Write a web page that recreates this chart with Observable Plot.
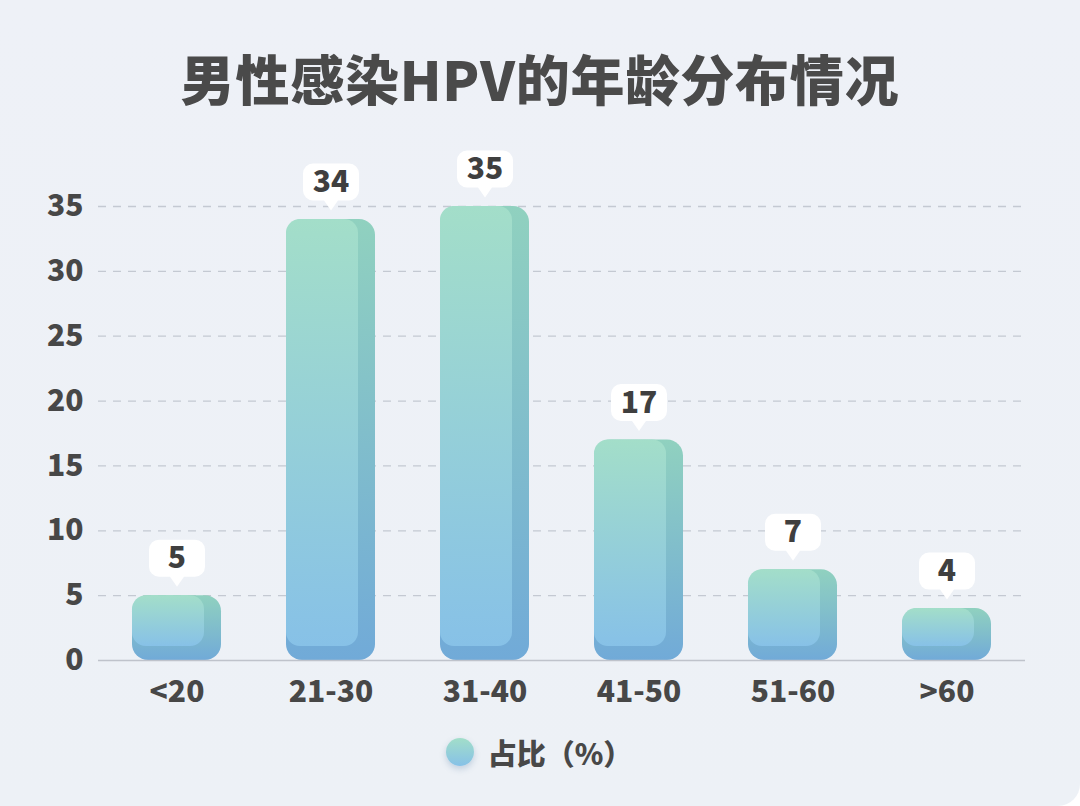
<!DOCTYPE html>
<html>
<head>
<meta charset="utf-8">
<script src="https://cdn.jsdelivr.net/npm/d3@7"></script>
<script src="https://cdn.jsdelivr.net/npm/@observablehq/plot@0.6"></script>
<style>
  html, body { margin: 0; padding: 0; background: #ffffff; }
  #card {
    width: 1080px; height: 806px; box-sizing: border-box;
    background: linear-gradient(180deg, #eef1f7 0%, #edf1f6 100%);
    border-radius: 0 0 22px 0; overflow: hidden; position: relative;
    font-family: "Noto Sans CJK SC", "Noto Sans", sans-serif;
  }
  #title {
    height: 120px; margin: 0; padding-top: 46px; box-sizing: border-box;
    text-align: center; font-size: 54px; line-height: 64px; font-weight: 900;
    color: #4a4a4a; letter-spacing: 0.8px;
  }
  #chart svg { display: block; overflow: visible; }
  #legend {
    height: 64px; display: flex; align-items: center; justify-content: center;
    gap: 14px; font-size: 29px; font-weight: 900; color: #484848; padding-right: 2px;
  }
  #legend .sw {
    width: 28px; height: 28px; border-radius: 50%;
    background: linear-gradient(180deg, #a2dec9 0%, #86c1e7 100%);
    box-shadow: 0 3px 6px rgba(90,130,170,0.3);
  }
  g[aria-label="bar-back"] { filter: drop-shadow(0 5px 6px rgba(80,120,160,0.22)); }
  g[aria-label="bubble"] { filter: drop-shadow(0 3px 6px rgba(90,110,140,0.22)); }
</style>
</head>
<body>
<div id="card">
  <div id="title">男性感染HPV的年龄分布情况</div>
  <div id="chart"></div>
  <div id="legend"><div class="sw"></div><div id="legend-label"></div></div>
</div>
<script>
const categories = ["<20", "21-30", "31-40", "41-50", "51-60", ">60"];
const values = [5, 34, 35, 17, 7, 4];
const yTicks = [0, 5, 10, 15, 20, 25, 30, 35];
const gridTicks = [5, 10, 15, 20, 25, 30, 35];
const legendLabel = "占比（%）";

document.getElementById("legend-label").textContent = legendLabel;

const data = categories.map((c, i) => ({ category: c, value: values[i] }));

const bubble = {
  draw(ctx) {
    const w = 28, top = -47, bot = -10, r = 10, p = 7;
    ctx.moveTo(-w + r, top);
    ctx.lineTo(w - r, top);
    ctx.arcTo(w, top, w, top + r, r);
    ctx.lineTo(w, bot - r);
    ctx.arcTo(w, bot, w - r, bot, r);
    ctx.lineTo(p, bot);
    ctx.lineTo(0, 0);
    ctx.lineTo(-p, bot);
    ctx.lineTo(-w + r, bot);
    ctx.arcTo(-w, bot, -w, bot - r, r);
    ctx.lineTo(-w, top + r);
    ctx.arcTo(-w, top, -w + r, top, r);
    ctx.closePath();
  }
};

const defs = () => {
  const ns = "http://www.w3.org/2000/svg";
  const d = document.createElementNS(ns, "defs");
  d.innerHTML = `
    <linearGradient id="gFace" x1="0" y1="0" x2="0" y2="1">
      <stop offset="0%" stop-color="#a3dec9"/>
      <stop offset="100%" stop-color="#87c1e7"/>
    </linearGradient>
    <linearGradient id="gBack" x1="0" y1="0" x2="0" y2="1">
      <stop offset="0%" stop-color="#90d1bf"/>
      <stop offset="100%" stop-color="#71aad8"/>
    </linearGradient>`;
  return d;
};

const chart = Plot.plot({
  width: 1080,
  height: 600,
  marginTop: 86,
  marginBottom: 60,
  marginLeft: 98,
  marginRight: 55,
  style: { background: "transparent", fontFamily: "'Noto Sans CJK SC', 'Noto Sans', sans-serif", overflow: "visible" },
  x: { domain: categories, paddingInner: 0.42, paddingOuter: 0.21, label: null },
  y: { domain: [0, 35], label: null },
  marks: [
    defs,
    Plot.ruleY(gridTicks, { stroke: "#c4c9d2", strokeWidth: 1.3, strokeDasharray: "8,7" }),
    Plot.barY(data, { x: "category", y: "value", fill: "url(#gBack)", rx: 16, ariaLabel: "bar-back" }),
    Plot.barY(data, { x: "category", y: "value", fill: "url(#gFace)", rx: 14, insetRight: 17, insetBottom: 14, ariaLabel: "bar-face" }),
    Plot.ruleY([0], { stroke: "#bfc3cb", strokeWidth: 1.6 }),
    Plot.axisY(yTicks, { tickSize: 0, tickPadding: 15, fontSize: 30, fontWeight: 800, fill: "#474747" }),
    Plot.axisX({ tickSize: 0, tickPadding: 20, fontSize: 30, fontWeight: 800, fill: "#474747" }),
    Plot.dot(data, { x: "category", y: "value", dy: -9, symbol: bubble, fill: "#ffffff", stroke: "none", ariaLabel: "bubble" }),
    Plot.text(data, { x: "category", y: "value", text: d => String(d.value), dy: -37, fontSize: 30, fontWeight: 800, fill: "#3f3f3f" })
  ]
});
document.getElementById("chart").append(chart);
</script>
</body>
</html>
